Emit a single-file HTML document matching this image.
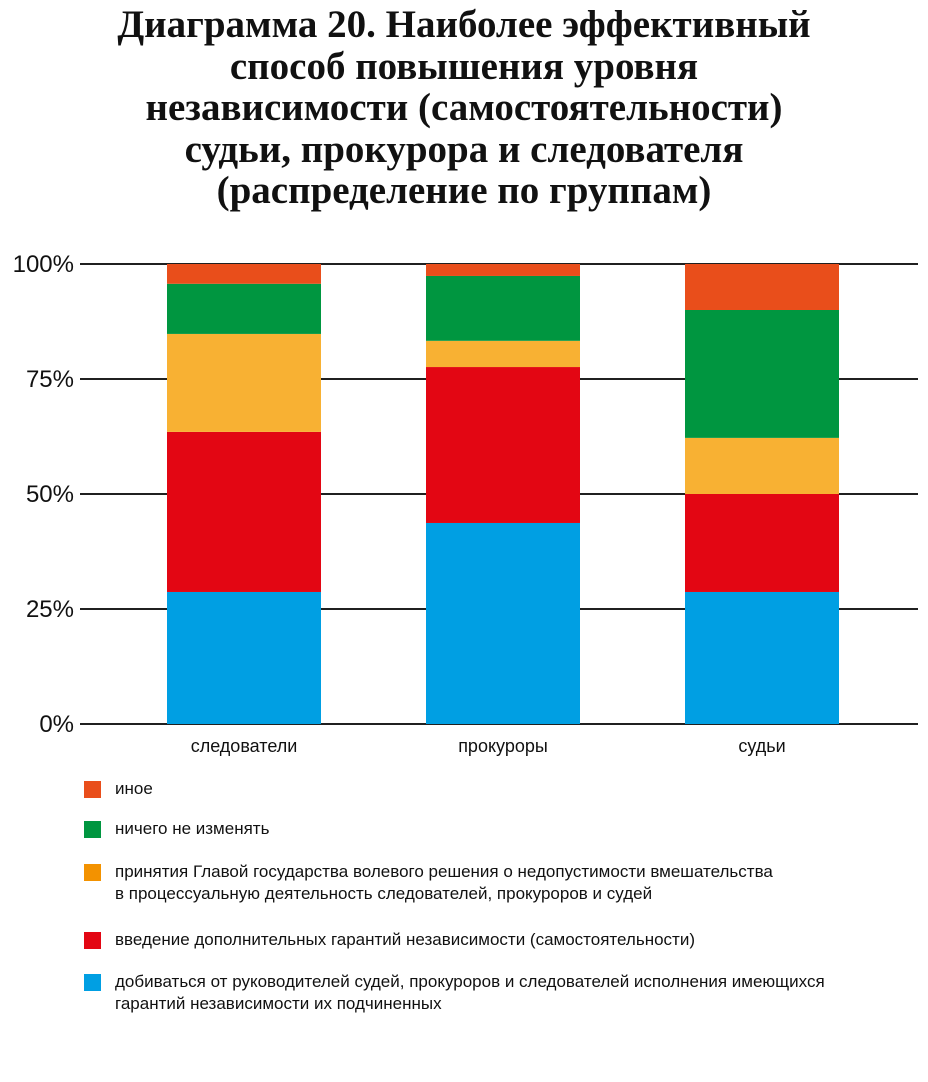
<!DOCTYPE html>
<html><head><meta charset="utf-8"><style>
body{margin:0;background:#fff;width:928px;height:1082px;overflow:hidden;font-family:"Liberation Sans","DejaVu Sans",sans-serif}
#title{position:absolute;left:0;top:0;width:928px;text-align:center;font-family:"Liberation Serif",serif;font-weight:bold;font-size:39px;line-height:41.5px;color:#111;margin:0;padding-top:4px}
.leg{position:absolute;left:84px;font-size:17px;line-height:22px;color:#111;font-family:"Liberation Sans Narrow","Liberation Sans",sans-serif}
.sw{position:absolute;left:0;top:3px;width:17px;height:17px}
.lt{position:absolute;left:31px;white-space:nowrap}
</style></head><body>
<h1 id="title">Диаграмма 20. Наиболее эффективный<br>способ повышения уровня<br>независимости (самостоятельности)<br>судьи, прокурора и следователя<br>(распределение по группам)</h1>
<svg id="chart" width="928" height="770" style="position:absolute;left:0;top:0"></svg>
<div class="leg" style="top:778px"><span class="sw" style="background:#e94e1b"></span><span class="lt">иное</span></div>
<div class="leg" style="top:818px"><span class="sw" style="background:#009640"></span><span class="lt">ничего не изменять</span></div>
<div class="leg" style="top:861px"><span class="sw" style="background:#f39200"></span><span class="lt">принятия Главой государства волевого решения о недопустимости вмешательства<br>в процессуальную деятельность следователей, прокуроров и судей</span></div>
<div class="leg" style="top:929px"><span class="sw" style="background:#e30613"></span><span class="lt">введение дополнительных гарантий независимости (самостоятельности)</span></div>
<div class="leg" style="top:971px"><span class="sw" style="background:#009fe3"></span><span class="lt">добиваться от руководителей судей, прокуроров и следователей исполнения имеющихся<br>гарантий независимости их подчиненных</span></div>
<script>
const categories=["следователи","прокуроры","судьи"];
const seriesNames=["enforce","guarantees","head-of-state","nothing","other"];
const seriesColors=["#009fe3","#e30613","#f8b133","#009640","#e94e1b"];
const enforce=[28.7,43.7,28.7];
const guarantees=[34.8,33.9,21.3];
const headOfState=[21.3,5.7,12.2];
const nothing=[10.9,14.1,27.8];
const other=[4.3,2.6,10.0];
const ticks=[0,25,50,75,100];
const tickLabels=["0%","25%","50%","75%","100%"];
const series=[enforce,guarantees,headOfState,nothing,other];
const NS="http://www.w3.org/2000/svg";
const svg=document.getElementById("chart");
const y0=724,y1=264;
const y=v=>y0-(v/100)*(y0-y1);
const x=i=>167+i*259;
const bw=154;
function mk(t,a){const e=document.createElementNS(NS,t);for(const k in a)e.setAttribute(k,a[k]);svg.appendChild(e);return e;}
ticks.forEach((t,i)=>{
 const l=mk("line",{x1:80,x2:918,y1:y(t),y2:y(t),stroke:"#000","stroke-width":1.8});
 
 
 const tx=mk("text",{x:74,y:y(t)+8,"text-anchor":"end","font-size":24,fill:"#111","font-family":"Liberation Sans Narrow, Liberation Sans, sans-serif"});
 tx.textContent=tickLabels[i];
 
 
});
categories.forEach((c,i)=>{
 let acc=0;
 series.forEach((s,j)=>{
  const r=mk("rect",{x:x(i),y:y(acc+s[i]),width:bw,height:y(acc)-y(acc+s[i]),fill:seriesColors[j]});
  
  
  acc+=s[i];
 });
 const t=mk("text",{x:x(i)+bw/2,y:752,"text-anchor":"middle","font-size":18,fill:"#111","font-family":"Liberation Sans Narrow, Liberation Sans, sans-serif"});
 t.textContent=c;
 
 
});
</script>
</body></html>
